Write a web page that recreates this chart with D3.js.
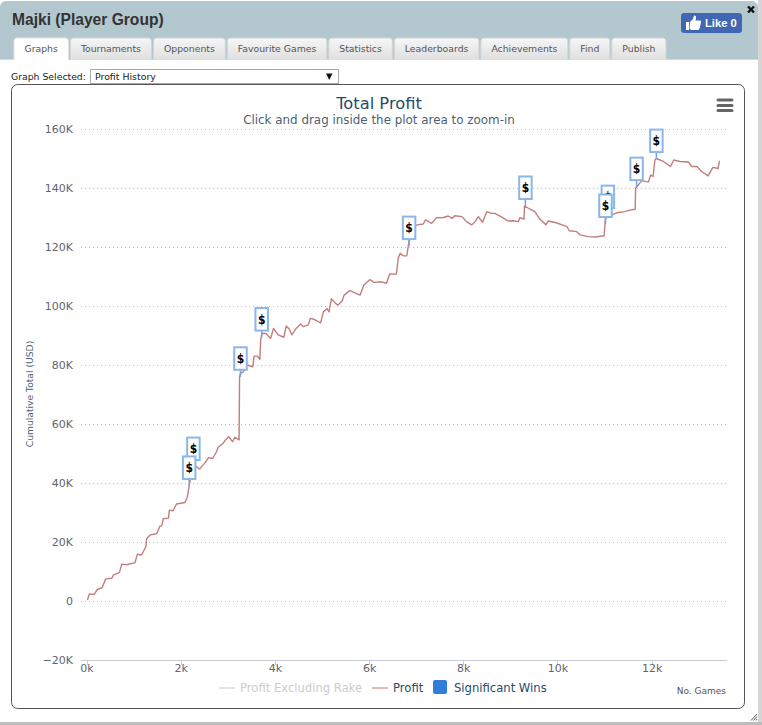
<!DOCTYPE html>
<html>
<head>
<meta charset="utf-8">
<title>Total Profit</title>
<script src="https://cdnjs.cloudflare.com/ajax/libs/d3/7.8.5/d3.min.js"></script>
<style>
  html, body { margin: 0; padding: 0; background: #fff; overflow: hidden; }
  svg { display: block; font-family: "DejaVu Sans", sans-serif; }
  .axis path, .axis line { shape-rendering: crispEdges; }
</style>
</head>
<body>
<svg id="page" width="762" height="725"></svg>
<script>
// games played (thousands) and cumulative profit (thousands of USD)
var games = [0.02, 0.06, 0.16, 0.23, 0.33, 0.41, 0.54, 0.57, 0.70, 0.75, 0.85, 1.03, 1.08, 1.17, 1.26, 1.28, 1.35, 1.49, 1.56, 1.60,
  1.63, 1.74, 1.76, 1.84, 1.91, 2.09, 2.14, 2.18, 2.20, 2.27, 2.34, 2.40, 2.52, 2.59, 2.68, 2.76, 2.80, 2.90, 2.95, 3.02,
  3.10, 3.15, 3.24, 3.25, 3.27, 3.33, 3.41, 3.53, 3.56, 3.63, 3.68, 3.70, 3.73, 3.81, 3.91, 3.97, 4.07, 4.19, 4.24, 4.31,
  4.36, 4.45, 4.55, 4.60, 4.71, 4.75, 4.83, 4.92, 4.97, 5.03, 5.11, 5.15, 5.20, 5.29, 5.34, 5.43, 5.47, 5.59, 5.81, 5.89,
  6.02, 6.10, 6.26, 6.37, 6.44, 6.58, 6.62, 6.66, 6.73, 6.80, 6.83, 6.86, 6.90, 7.02, 7.15, 7.20, 7.33, 7.43, 7.58, 7.68,
  7.76, 7.82, 7.97, 8.07, 8.18, 8.25, 8.32, 8.41, 8.50, 8.60, 8.67, 8.78, 8.96, 9.06, 9.17, 9.20, 9.29, 9.30, 9.42, 9.52,
  9.63, 9.76, 9.80, 9.95, 10.10, 10.20, 10.25, 10.41, 10.48, 10.65, 10.80, 10.99, 11.01, 11.02, 11.15, 11.26, 11.43, 11.54, 11.65, 11.66,
  11.69, 11.79, 11.93, 11.98, 12.03, 12.07, 12.10, 12.25, 12.40, 12.47, 12.60, 12.78, 12.85, 12.96, 13.06, 13.20, 13.30, 13.41, 13.44];
var profit = [0.3, 2.4, 2.2, 3.9, 4.5, 7.5, 7.7, 8.8, 9.7, 12.5, 12.3, 13.0, 15.9, 15.6, 18.4, 21.2, 22.4, 22.8, 25.4, 25.6,
  27.9, 28.1, 30.8, 30.6, 32.9, 33.4, 35.2, 39.0, 41.0, 45.5, 45.5, 44.7, 46.9, 48.6, 48.3, 50.6, 52.2, 53.4, 54.6, 55.7,
  54.0, 55.5, 54.6, 76.0, 77.2, 77.7, 80.0, 79.4, 83.0, 83.0, 81.9, 89.0, 90.7, 90.7, 89.0, 92.4, 90.2, 89.4, 93.2, 92.1,
  90.2, 92.4, 93.9, 93.0, 93.6, 95.8, 95.5, 94.7, 94.3, 98.0, 99.1, 98.0, 102.4, 100.9, 100.3, 101.8, 103.7, 105.2, 103.7, 107.1,
  109.0, 108.0, 108.2, 107.7, 110.9, 110.8, 116.2, 117.9, 117.0, 117.0, 120.1, 122.9, 126.5, 127.5, 127.8, 129.2, 128.0, 129.9, 130.0, 130.5,
  129.7, 130.6, 130.3, 128.6, 127.5, 128.6, 130.3, 128.4, 132.0, 131.4, 131.4, 130.5, 128.8, 128.9, 128.6, 129.9, 129.5, 133.9, 132.8, 132.0,
  129.4, 127.5, 128.8, 128.3, 127.5, 126.9, 125.5, 125.2, 124.1, 123.5, 123.4, 123.8, 128.0, 129.7, 130.8, 131.6, 132.0, 132.5, 132.8, 139.9,
  140.5, 142.5, 142.0, 144.4, 143.9, 149.5, 150.0, 149.0, 147.3, 149.5, 149.0, 148.8, 147.3, 147.3, 145.6, 144.1, 147.0, 146.6, 149.2];

// significant wins, the $ flags, in drawing order
var flagGames = [2.27, 2.18, 3.27, 3.72, 6.85, 9.32, 11.07, 11.02, 11.68, 12.10];
var flagProfit = [45.4, 39.0, 76.0, 89.3, 120.3, 133.9, 130.8, 127.8, 140.3, 149.8];

var yTicks = [-20, 0, 20, 40, 60, 80, 100, 120, 140, 160];
var xTicks = [0, 2, 4, 6, 8, 10, 12];
var tabLabels = ["Graphs", "Tournaments", "Opponents", "Favourite Games", "Statistics", "Leaderboards", "Achievements", "Find", "Publish"];

var svg = d3.select("#page");
var defs = svg.append("defs");

var shadow = defs.append("linearGradient").attr("id", "tabFill").attr("x1", 0).attr("y1", 0).attr("x2", 0).attr("y2", 1);
shadow.append("stop").attr("offset", "0").attr("stop-color", "#f6f6f6");
shadow.append("stop").attr("offset", "1").attr("stop-color", "#dfdfdf");

// ---- dialog frame ----
svg.append("rect").attr("width", 762).attr("height", 725).attr("fill", "#fff");
svg.append("rect").attr("x", 758).attr("y", 0).attr("width", 4).attr("height", 725).attr("fill", "#d6d6d6");
svg.append("rect").attr("x", 0).attr("y", 722).attr("width", 762).attr("height", 3).attr("fill", "#bdbdbd");
svg.append("path").attr("d", "M0,60V7a6,6 0 0 1 6,-6H752a6,6 0 0 1 6,6V60Z").attr("fill", "#b3c7ce");
svg.append("rect").attr("x", 0).attr("y", 59).attr("width", 758).attr("height", 1).attr("fill", "#cfd8dc");

svg.append("text").attr("x", 12).attr("y", 25)
    .attr("font-family", "'Liberation Sans', sans-serif").attr("font-weight", "bold").attr("font-size", 15.600)
    .attr("fill", "#333").text("Majki (Player Group)");

// close cross and resize grip
svg.append("path").attr("d", "M748,6.5L754,12.5M754,6.5L748,12.5").attr("stroke", "#111").attr("stroke-width", 2.4);
[0, 1, 2].forEach(function(i) {
  svg.append("path").attr("d", "M757," + (714 + i * 2.500) + "L" + (751 + i * 2.500) + ",720.500")
      .attr("stroke", "#555").attr("stroke-width", 1);
});

// like button
var like = svg.append("g");
like.append("rect").attr("x", 681).attr("y", 13).attr("width", 61).attr("height", 20).attr("rx", 3).attr("fill", "#4267b2");
like.append("path").attr("d", "M686,22h3v8h-3zM690,22l3,-3l1,-3.500c1.500,-0.500 2.500,1 2,3l-0.500,2h4.500c1,0 1.500,1 1,2l-1.500,6c-0.300,1 -1,1.500 -2,1.500h-6l-2,-1z")
    .attr("fill", "#fff");
like.append("text").attr("x", 705).attr("y", 27)
    .attr("font-family", "'Liberation Sans', sans-serif").attr("font-weight", "bold").attr("font-size", 11.200)
    .attr("fill", "#fff").text("Like 0");

// ---- tabs ----
var tabX = 14;
tabLabels.forEach(function(label, i) {
  var active = i === 0;
  var g = svg.append("g");
  var box = g.append("path");
  var text = g.append("text").attr("y", 51.500).attr("font-size", 9.300).attr("fill", "#555").text(label);
  var w = text.node().getComputedTextLength() + 21;
  text.attr("x", tabX + 10.500);
  box.attr("d", "M" + tabX + ",60V41a3,3 0 0 1 3,-3H" + (tabX + w - 3) + "a3,3 0 0 1 3,3V60")
      .attr("fill", active ? "#fff" : "url(#tabFill)")
      .attr("stroke", active ? "#e4e4e4" : "#d4d4d4");
  tabX += w + 2;
});

// ---- graph selector ----
svg.append("text").attr("x", 11).attr("y", 80).attr("font-size", 9.300).attr("fill", "#222").text("Graph Selected:");
svg.append("rect").attr("x", 90.500).attr("y", 69.500).attr("width", 248).attr("height", 14)
    .attr("fill", "#fff").attr("stroke", "#a9a9a9");
svg.append("text").attr("x", 95).attr("y", 80).attr("font-size", 9.400).attr("fill", "#222").text("Profit History");
svg.append("path").attr("d", "M326,73.500H332.500L329.250,80Z").attr("fill", "#111");

// ---- chart ----
svg.append("rect").attr("x", 11.500).attr("y", 84.500).attr("width", 733).attr("height", 624).attr("rx", 6)
    .attr("fill", "#fff").attr("stroke", "#555");

var x = d3.scaleLinear().domain([0, 13.6]).range([86.5, 727]);
var y = d3.scaleLinear().domain([-20, 160]).range([660, 129]);

svg.append("text").attr("x", 379).attr("y", 109).attr("text-anchor", "middle")
    .attr("font-size", 16.300).attr("fill", "#274b6d").text("Total Profit");
svg.append("text").attr("x", 379).attr("y", 124).attr("text-anchor", "middle")
    .attr("font-size", 11.900).attr("fill", "#4d5f75").text("Click and drag inside the plot area to zoom-in");

// export menu icon
[100, 105.500, 110.500].forEach(function(iy) {
  svg.append("line").attr("x1", 718).attr("x2", 732).attr("y1", iy).attr("y2", iy)
      .attr("stroke", "#666").attr("stroke-width", 3).attr("stroke-linecap", "round");
});

var yAxis = d3.axisLeft(y).tickValues(yTicks)
    .tickSize(-(727 - 81)).tickPadding(8)
    .tickFormat(function(d) { return (d === 0 ? "0" : d3.format("d")(d) + "K").replace("-", "\u2212"); });

var yG = svg.append("g").attr("class", "axis").attr("transform", "translate(81,0)").call(yAxis);
yG.select(".domain").remove();
yG.selectAll(".tick line").attr("stroke", "#bdbdbd").attr("stroke-dasharray", "1,3");
yG.selectAll(".tick line").filter(function(d) { return d === -20; }).remove();
yG.selectAll("text").attr("font-size", 11).attr("fill", "#5f6470").attr("font-family", "'DejaVu Sans', sans-serif");

var xAxis = d3.axisBottom(x).tickValues(xTicks).tickSize(4).tickPadding(0)
    .tickFormat(function(d) { return d + "k"; });
var xG = svg.append("g").attr("class", "axis").attr("transform", "translate(0,660.5)").call(xAxis);
xG.select(".domain").attr("stroke", "#c8ccd8").attr("d", "M81,0H727");
xG.selectAll(".tick line").attr("stroke", "#c8ccd8");
xG.selectAll("text").attr("font-size", 11).attr("fill", "#5f6470").attr("font-family", "'DejaVu Sans', sans-serif");

svg.append("text").attr("transform", "translate(33,394) rotate(-90)").attr("text-anchor", "middle")
    .attr("font-size", 9.200).attr("fill", "#4d5f75").text("Cumulative Total (USD)");
svg.append("text").attr("x", 726).attr("y", 694).attr("text-anchor", "end")
    .attr("font-size", 9).attr("fill", "#555").text("No. Games");

// profit line
var line = d3.line()
    .x(function(d) { return x(d); })
    .y(function(d, i) { return y(profit[i]); });
svg.append("path").attr("d", line(games)).attr("fill", "none")
    .attr("stroke", "#c47d7d").attr("stroke-width", 1.400).attr("stroke-linejoin", "round");

// flags
var flags = svg.append("g").selectAll("g").data(flagGames).join("g")
    .attr("transform", function(d, i) { return "translate(" + x(d) + "," + y(flagProfit[i]) + ")"; });
flags.append("line").attr("y1", 0).attr("y2", -7).attr("stroke", "#7a9fdc").attr("stroke-width", 1.500);
flags.append("rect").attr("x", -6.250).attr("y", -29.500).attr("width", 12.500).attr("height", 22.500)
    .attr("fill", "#fff").attr("stroke", "#8ab6ea").attr("stroke-width", 2);
flags.append("text").attr("y", -14).attr("text-anchor", "middle")
    .attr("font-family", "'DejaVu Sans Condensed', 'DejaVu Sans', sans-serif")
    .attr("font-size", 12).attr("font-weight", "bold").attr("fill", "#000").text("$");

// legend
var legend = svg.append("g").attr("font-size", 11.600);
legend.append("line").attr("x1", 219).attr("x2", 235).attr("y1", 688).attr("y2", 688).attr("stroke", "#e3e3e3").attr("stroke-width", 2);
legend.append("text").attr("x", 240).attr("y", 692).attr("fill", "#ccc").text("Profit Excluding Rake");
legend.append("line").attr("x1", 372).attr("x2", 388).attr("y1", 688).attr("y2", 688).attr("stroke", "#e3b8b8").attr("stroke-width", 2);
legend.append("text").attr("x", 393).attr("y", 692).attr("fill", "#274b6d").text("Profit");
legend.append("rect").attr("x", 433).attr("y", 680).attr("width", 14).attr("height", 14).attr("rx", 2).attr("fill", "#2f7ed8");
legend.append("text").attr("x", 454).attr("y", 692).attr("fill", "#274b6d").text("Significant Wins");
</script>
</body>
</html>
